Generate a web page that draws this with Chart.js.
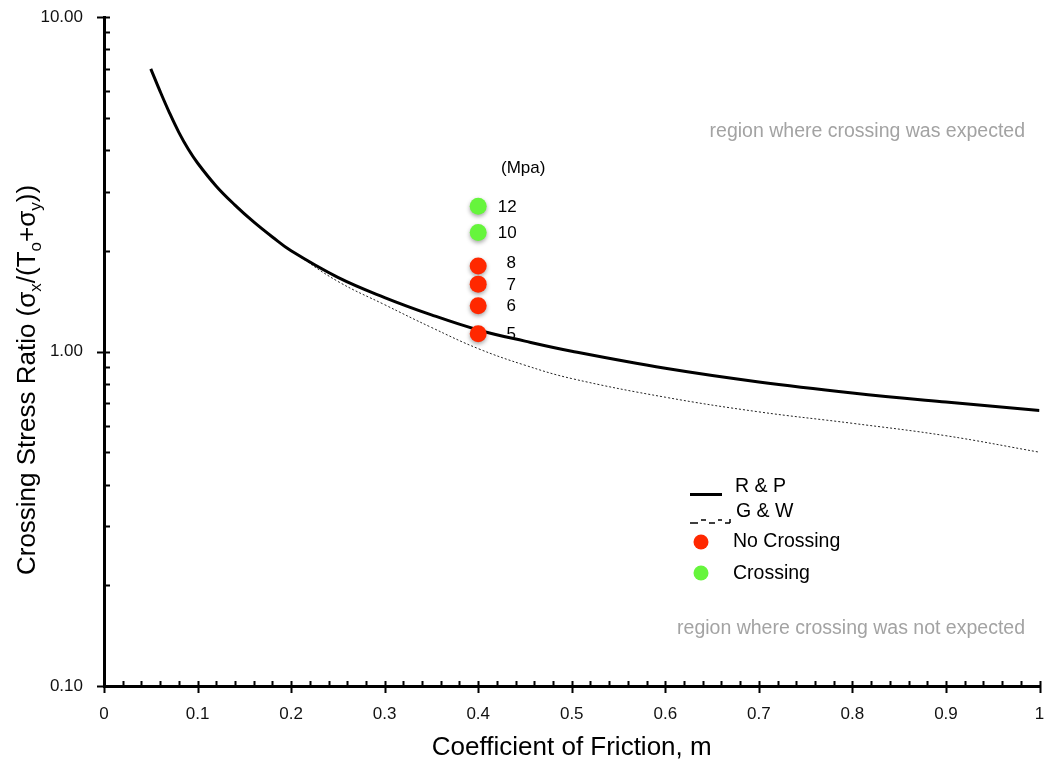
<!DOCTYPE html>
<html>
<head>
<meta charset="utf-8">
<title>Crossing Stress Ratio</title>
<script src="https://cdn.jsdelivr.net/npm/chart.js@4.4.0/dist/chart.umd.min.js"></script>
<style>
  html, body { margin: 0; padding: 0; background: #fff; }
  #wrap { width: 1048px; height: 772px; }
</style>
</head>
<body>
<div id="wrap"><canvas id="crossingChart" width="1048" height="772"></canvas></div>
<script>
// R & P criterion
const frictionRP = [0.05, 0.06, 0.07, 0.08, 0.09, 0.10, 0.12, 0.14, 0.16, 0.18, 0.20, 0.25, 0.30, 0.35, 0.40, 0.45, 0.50, 0.60, 0.70, 0.80, 0.90, 1.00];
const ratioRP = [7.0, 5.99, 5.17, 4.52, 4.03, 3.66, 3.12, 2.74, 2.44, 2.20, 2.0, 1.666, 1.45, 1.287, 1.16, 1.074, 1.002, 0.891, 0.811, 0.752, 0.706, 0.666];

// G & W criterion
const frictionGW = [0.20, 0.25, 0.30, 0.35, 0.40, 0.45, 0.50, 0.60, 0.70, 0.80, 0.90, 1.00];
const ratioGW = [2.0, 1.62, 1.38, 1.18, 1.02, 0.91, 0.83, 0.73, 0.66, 0.61, 0.56, 0.50];

// lab tests, all at m = 0.4
const testFriction = 0.4;
const crossingStress = ['12', '10'];
const crossingRatio = [2.72, 2.27];
const noCrossingStress = ['8', '7', '6', '5'];
const noCrossingRatio = [1.80, 1.59, 1.37, 1.13];

const xTickValues = [0, 0.1, 0.2, 0.3, 0.4, 0.5, 0.6, 0.7, 0.8, 0.9, 1];
const yTickValues = [0.1, 1, 10];

const FONT = '"Liberation Sans", Arial, Helvetica, sans-serif';
const RED = 'rgb(255,40,0)';
const GREEN = 'rgb(102,245,60)';

Chart.defaults.font.family = FONT;

function pairs(xs, ys) {
  return xs.map((x, i) => ({ x: x, y: ys[i] }));
}

// minor + major tick marks on both axes
const axisTicks = {
  id: 'axisTicks',
  afterDraw(chart) {
    const { ctx, chartArea: a, scales: { x, y } } = chart;
    ctx.save();
    ctx.strokeStyle = '#000';
    ctx.lineWidth = 2;
    ctx.beginPath();
    for (let i = 0; i <= 50; i++) {
      const px = Math.round(x.getPixelForValue(i / 50)) + 0.5;
      if (i % 5 === 0) {
        ctx.moveTo(px, a.bottom - 5);
        ctx.lineTo(px, a.bottom + 7);
      } else {
        ctx.moveTo(px, a.bottom);
        ctx.lineTo(px, a.bottom - 5);
      }
    }
    yTickValues.forEach(v => {
      const py = Math.round(y.getPixelForValue(v)) + 0.5;
      ctx.moveTo(a.left - 7, py);
      ctx.lineTo(a.left + 6, py);
    });
    [0.1, 1].forEach(decade => {
      for (let m = 2; m <= 9; m++) {
        const py = Math.round(y.getPixelForValue(m * decade)) + 0.5;
        ctx.moveTo(a.left, py);
        ctx.lineTo(a.left + 6, py);
      }
    });
    ctx.stroke();
    ctx.restore();
  }
};

// y title with subscripts, rotated
const yTitle = {
  id: 'yTitle',
  afterDraw(chart) {
    const ctx = chart.ctx;
    const parts = [
      ['Crossing Stress Ratio (\u03C3', false], ['x', true], ['/(T', false], ['o', true],
      ['+\u03C3', false], ['y', true], ['))', false]
    ];
    const big = '26px ' + FONT, small = '17px ' + FONT;
    ctx.save();
    let total = 0;
    parts.forEach(p => { ctx.font = p[1] ? small : big; total += ctx.measureText(p[0]).width; });
    ctx.translate(35, 380);
    ctx.rotate(-Math.PI / 2);
    ctx.fillStyle = '#000';
    ctx.textBaseline = 'alphabetic';
    let cx = -total / 2;
    parts.forEach(p => {
      ctx.font = p[1] ? small : big;
      ctx.fillText(p[0], cx, p[1] ? 6 : 0);
      cx += ctx.measureText(p[0]).width;
    });
    ctx.restore();
  }
};

// x title, notes, stress labels and the key
const extras = {
  id: 'extras',
  afterDraw(chart) {
    const ctx = chart.ctx;
    const a = chart.chartArea;
    ctx.save();
    ctx.fillStyle = '#000';
    ctx.textBaseline = 'middle';
    ctx.textAlign = 'center';
    ctx.font = '26px ' + FONT;
    ctx.fillText('Coefficient of Friction, m', (a.left + a.right) / 2, 748);

    ctx.fillStyle = '#a3a3a3';
    ctx.textAlign = 'right';
    ctx.font = '19.5px ' + FONT;
    ctx.fillText('region where crossing was expected', 1025, 132);
    ctx.fillText('region where crossing was not expected', 1025, 629);

    // stress labels beside the points
    ctx.fillStyle = '#000';
    ctx.textAlign = 'center';
    ctx.font = '17px ' + FONT;
    const labelSets = [crossingStress, noCrossingStress];
    [0, 1].forEach(di => {
      chart.getDatasetMeta(di).data.forEach((pt, i) => {
        const txt = labelSets[di][i];
        ctx.fillText(txt, pt.x + (txt.length > 1 ? 29 : 33), pt.y + (txt === '8' ? -3 : 1));
      });
    });
    const top = chart.getDatasetMeta(0).data[0];
    ctx.font = '17px ' + FONT;
    ctx.fillText('(Mpa)', top.x + 45, 168);

    // key
    ctx.strokeStyle = '#000';
    ctx.lineWidth = 3;
    ctx.beginPath();
    ctx.moveTo(690, 494.5);
    ctx.lineTo(722, 494.5);
    ctx.stroke();

    ctx.lineWidth = 1.5;
    ctx.beginPath();
    const steps = [[690, 523, 698], [701, 520, 706], [709, 523, 715], [718, 520, 722], [725, 523, 730]];
    steps.forEach(s => { ctx.moveTo(s[0], s[1]); ctx.lineTo(s[2], s[1]); });
    ctx.moveTo(730, 523);
    ctx.lineTo(730, 519);
    ctx.stroke();

    ctx.fillStyle = RED;
    ctx.beginPath();
    ctx.arc(701, 542, 7.5, 0, Math.PI * 2);
    ctx.fill();
    ctx.fillStyle = GREEN;
    ctx.beginPath();
    ctx.arc(701, 573, 7.5, 0, Math.PI * 2);
    ctx.fill();

    ctx.fillStyle = '#000';
    ctx.textAlign = 'left';
    ctx.font = '19.5px ' + FONT;
    ctx.fillText('R & P', 735, 487);
    ctx.fillText('G & W', 736, 512);
    ctx.fillText('No Crossing', 733, 542);
    ctx.fillText('Crossing', 733, 574);
    ctx.restore();
  }
};

// soft drop shadow under the test points
const pointShadow = {
  id: 'pointShadow',
  beforeDatasetDraw(chart, args) {
    if (!chart.data.datasets[args.index].shadow) return;
    const ctx = chart.ctx;
    ctx.save();
    ctx.shadowColor = 'rgba(0,0,0,0.35)';
    ctx.shadowBlur = 4;
    ctx.shadowOffsetY = 2;
  },
  afterDatasetDraw(chart, args) {
    if (!chart.data.datasets[args.index].shadow) return;
    chart.ctx.restore();
  }
};

new Chart(document.getElementById('crossingChart'), {
  type: 'scatter',
  data: {
    datasets: [
      {
        label: 'Crossing',
        data: crossingRatio.map(r => ({ x: testFriction, y: r })),
        backgroundColor: GREEN,
        borderWidth: 0,
        pointRadius: 8.5,
        shadow: true
      },
      {
        label: 'No Crossing',
        data: noCrossingRatio.map(r => ({ x: testFriction, y: r })),
        backgroundColor: RED,
        borderWidth: 0,
        pointRadius: 8.5,
        shadow: true
      },
      {
        label: 'R & P',
        data: pairs(frictionRP, ratioRP),
        showLine: true,
        borderColor: '#000',
        borderWidth: 3,
        pointRadius: 0,
        tension: 0.4
      },
      {
        label: 'G & W',
        data: pairs(frictionGW, ratioGW),
        showLine: true,
        borderColor: '#222',
        borderWidth: 1,
        borderDash: [2, 2],
        pointRadius: 0,
        tension: 0.4
      }
    ]
  },
  options: {
    responsive: false,
    animation: false,
    layout: { padding: { left: 0, right: 8, top: 17, bottom: 0 } },
    plugins: {
      legend: { display: false },
      tooltip: { enabled: false }
    },
    scales: {
      x: {
        type: 'linear',
        min: 0,
        max: 1,
        afterFit(scale) {
          scale.height = 86;
          scale.paddingLeft = 0;
          scale.paddingRight = 0;
        },
        afterBuildTicks(scale) { scale.ticks = xTickValues.map(v => ({ value: v })); },
        ticks: {
          autoSkip: false,
          maxRotation: 0,
          padding: 18,
          color: '#111',
          font: { size: 17 },
          callback: v => (v === 0 || v === 1) ? String(v) : v.toFixed(1)
        },
        grid: { display: false, drawTicks: false },
        border: { display: true, color: '#000', width: 3 }
      },
      y: {
        type: 'logarithmic',
        min: 0.1,
        max: 10,
        afterFit(scale) {
          scale.width = 104;
          scale.paddingTop = 0;
          scale.paddingBottom = 0;
        },
        afterBuildTicks(scale) { scale.ticks = yTickValues.map(v => ({ value: v, major: true })); },
        ticks: {
          autoSkip: false,
          padding: 21,
          color: '#111',
          font: { size: 17 },
          callback: v => Number(v).toFixed(2)
        },
        grid: { display: false, drawTicks: false },
        border: { display: true, color: '#000', width: 3 }
      }
    }
  },
  plugins: [pointShadow, axisTicks, yTitle, extras]
});
</script>
</body>
</html>
